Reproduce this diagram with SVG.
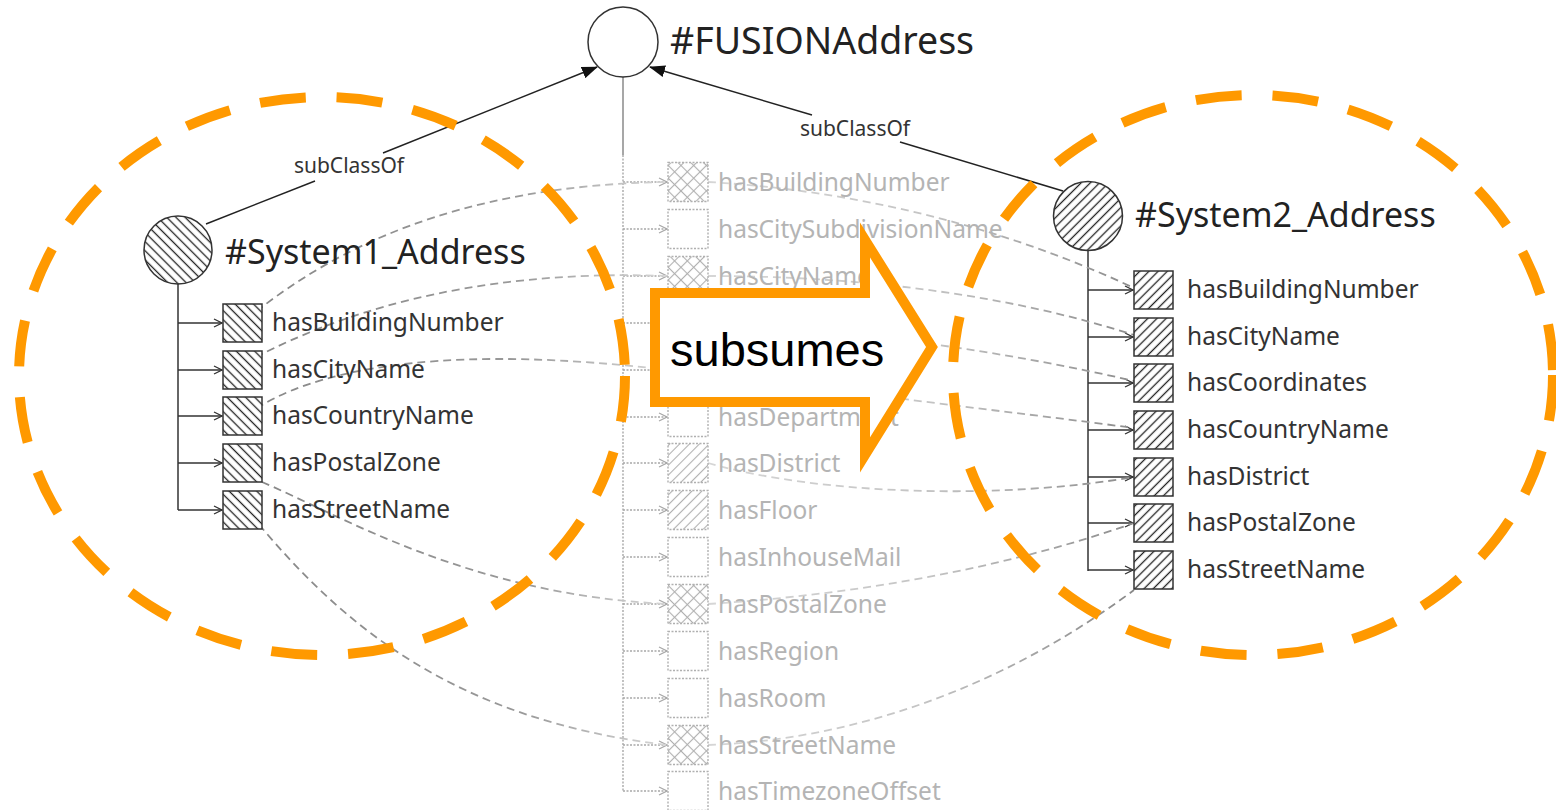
<svg xmlns="http://www.w3.org/2000/svg" width="1556" height="810" viewBox="0 0 1556 810">
  <defs>
    <style>
      .lbl { font-family: "Noto Sans", "Open Sans", "DejaVu Sans", sans-serif; font-size: 24.5px; fill: #333; }
      .lblFaint { font-family: "Noto Sans", "Open Sans", "DejaVu Sans", sans-serif; font-size: 24.5px; fill: #b4b4b4; }
      .title { font-family: "Noto Sans", "Open Sans", "DejaVu Sans", sans-serif; font-size: 34px; fill: #222; }
      .edgeLbl { font-family: "Noto Sans", "Open Sans", "DejaVu Sans", sans-serif; font-size: 21px; fill: #333; text-anchor: middle; }
      .tree { stroke: #333; stroke-width: 1.5; fill: none; }
      .treeFaint { stroke: #a8a8a8; stroke-width: 1.4; stroke-dasharray: 2 1.5; fill: none; }
      .box { stroke: #333; stroke-width: 1.5; }
      .boxFaint { stroke: #b0b0b0; stroke-width: 1.4; stroke-dasharray: 2 1.5; }
      .sub { stroke: #222; stroke-width: 1.5; fill: none; }
      .mapL { stroke: url(#fadeRight); stroke-width: 1.8; stroke-dasharray: 8 5; fill: none; }
      .mapR { stroke: url(#fadeLeft); stroke-width: 1.8; stroke-dasharray: 8 5; fill: none; }
      .group { fill: none; stroke: #ff9900; stroke-width: 10; stroke-dasharray: 46 31; }
    </style>
    <!-- hatch fills -->
    <pattern id="hatchBack" width="6.5" height="6.5" patternUnits="userSpaceOnUse" patternTransform="rotate(-45)">
      <rect width="6.5" height="6.5" fill="#fff"/>
      <line x1="3.25" y1="0" x2="3.25" y2="6.5" stroke="#222" stroke-width="1.3"/>
    </pattern>
    <pattern id="hatchFwd" width="6.5" height="6.5" patternUnits="userSpaceOnUse" patternTransform="rotate(45)">
      <rect width="6.5" height="6.5" fill="#fff"/>
      <line x1="3.25" y1="0" x2="3.25" y2="6.5" stroke="#222" stroke-width="1.3"/>
    </pattern>
    <pattern id="hatchGray" width="7" height="7" patternUnits="userSpaceOnUse" patternTransform="rotate(45)">
      <rect width="7" height="7" fill="#fff"/>
      <line x1="3.5" y1="0" x2="3.5" y2="7" stroke="#b0b0b0" stroke-width="1.1"/>
    </pattern>
    <pattern id="crossGray" width="9" height="9" patternUnits="userSpaceOnUse" patternTransform="rotate(45)">
      <rect width="9" height="9" fill="#fff"/>
      <line x1="4.5" y1="0" x2="4.5" y2="9" stroke="#b0b0b0" stroke-width="1.1"/>
      <line x1="0" y1="4.5" x2="9" y2="4.5" stroke="#b0b0b0" stroke-width="1.1"/>
    </pattern>
    <!-- fading strokes for mapping curves -->
    <linearGradient id="fadeRight" x1="0" y1="0" x2="1" y2="0">
      <stop offset="0" stop-color="#888"/>
      <stop offset="0.65" stop-color="#999"/>
      <stop offset="1" stop-color="#d6d6d6"/>
    </linearGradient>
    <linearGradient id="fadeLeft" x1="0" y1="0" x2="1" y2="0">
      <stop offset="0" stop-color="#d6d6d6"/>
      <stop offset="0.5" stop-color="#c4c4c4"/>
      <stop offset="1" stop-color="#888"/>
    </linearGradient>
    <marker id="tri" viewBox="0 0 16 12" refX="15" refY="6" markerWidth="16" markerHeight="12" markerUnits="userSpaceOnUse" orient="auto">
      <path d="M0,0 L16,6 L0,12 z" fill="#111"/>
    </marker>
    <marker id="open" viewBox="0 0 10 10" refX="9" refY="5" markerWidth="10" markerHeight="10" markerUnits="userSpaceOnUse" orient="auto">
      <path d="M1,1 L9,5 L1,9" fill="none" stroke="#333" stroke-width="1.3"/>
    </marker>
    <marker id="openFaint" viewBox="0 0 10 10" refX="9" refY="5" markerWidth="10" markerHeight="10" markerUnits="userSpaceOnUse" orient="auto">
      <path d="M1,1 L9,5 L1,9" fill="none" stroke="#a8a8a8" stroke-width="1.2"/>
    </marker>
  </defs>

  <rect width="1556" height="810" fill="#fff"/>

  <!-- connectors -->
  <g id="connectors">
    <!-- subClassOf edges -->
    <line class="sub" x1="206" y1="224" x2="315" y2="181"/>
    <line class="sub" x1="383" y1="153" x2="597" y2="67" marker-end="url(#tri)"/>
    <line class="sub" x1="1063" y1="191" x2="900" y2="142"/>
    <line class="sub" x1="812" y1="115" x2="650" y2="67" marker-end="url(#tri)"/>

    <!-- property trees -->
    <path class="tree" d="M178,284 V510"/>
    <path class="tree" d="M178,323 H222" marker-end="url(#open)"/>
    <path class="tree" d="M178,370 H222" marker-end="url(#open)"/>
    <path class="tree" d="M178,416 H222" marker-end="url(#open)"/>
    <path class="tree" d="M178,463 H222" marker-end="url(#open)"/>
    <path class="tree" d="M178,510 H222" marker-end="url(#open)"/>

    <path class="tree" d="M1088,250 V571"/>
    <path class="tree" d="M1088,290 H1133" marker-end="url(#open)"/>
    <path class="tree" d="M1088,337 H1133" marker-end="url(#open)"/>
    <path class="tree" d="M1088,383 H1133" marker-end="url(#open)"/>
    <path class="tree" d="M1088,430 H1133" marker-end="url(#open)"/>
    <path class="tree" d="M1088,477 H1133" marker-end="url(#open)"/>
    <path class="tree" d="M1088,523 H1133" marker-end="url(#open)"/>
    <path class="tree" d="M1088,570 H1133" marker-end="url(#open)"/>

    <path d="M623,77 V155" stroke="#8a8a8a" stroke-width="1.5" fill="none"/>
    <path class="treeFaint" d="M623,155 V791"/>
    <path class="treeFaint" d="M623,182 H667" marker-end="url(#openFaint)"/>
    <path class="treeFaint" d="M623,229 H667" marker-end="url(#openFaint)"/>
    <path class="treeFaint" d="M623,276 H667" marker-end="url(#openFaint)"/>
    <path class="treeFaint" d="M623,323 H667" marker-end="url(#openFaint)"/>
    <path class="treeFaint" d="M623,370 H667" marker-end="url(#openFaint)"/>
    <path class="treeFaint" d="M623,417 H667" marker-end="url(#openFaint)"/>
    <path class="treeFaint" d="M623,463 H667" marker-end="url(#openFaint)"/>
    <path class="treeFaint" d="M623,510 H667" marker-end="url(#openFaint)"/>
    <path class="treeFaint" d="M623,557 H667" marker-end="url(#openFaint)"/>
    <path class="treeFaint" d="M623,604 H667" marker-end="url(#openFaint)"/>
    <path class="treeFaint" d="M623,651 H667" marker-end="url(#openFaint)"/>
    <path class="treeFaint" d="M623,698 H667" marker-end="url(#openFaint)"/>
    <path class="treeFaint" d="M623,745 H667" marker-end="url(#openFaint)"/>
    <path class="treeFaint" d="M623,791 H667" marker-end="url(#openFaint)"/>

    <!-- mappings System1 -> FUSION -->
    <path class="mapL" d="M245,318 L262,307 C330,255 450,185 668,182"/>
    <path class="mapL" d="M245,365 L262,354 C330,320 460,268 668,276"/>
    <path class="mapL" d="M245,415 L262,405 C330,365 460,345 668,370"/>
    <path class="mapL" d="M262,482 C340,515 470,595 668,604"/>
    <path class="mapL" d="M250,515 L262,528 C340,620 450,720 668,745"/>

    <!-- mappings FUSION -> System2 -->
    <path class="mapR" d="M708,182 C850,190 1000,225 1134,288 L1150,296"/>
    <path class="mapR" d="M708,276 C850,276 1000,292 1134,335 L1150,340"/>
    <path class="mapR" d="M708,323 C850,330 1000,350 1134,381 L1150,384"/>
    <path class="mapR" d="M708,370 C850,395 1000,410 1134,428 L1150,430"/>
    <path class="mapR" d="M708,463 C820,495 1000,500 1134,477 L1150,474"/>
    <path class="mapR" d="M708,604 C850,595 1000,570 1134,523 L1150,517"/>
    <path class="mapR" d="M708,745 C850,740 1000,690 1134,590"/>
  </g>

  <!-- edge labels -->
  <g id="edge-labels">
    <text class="edgeLbl" x="349" y="173">subClassOf</text>
    <text class="edgeLbl" x="855" y="136">subClassOf</text>
  </g>

  <!-- FUSION class and its properties -->
  <g id="fusion">
    <circle cx="623" cy="42" r="35" fill="#fff" stroke="#333" stroke-width="1.5"/>
    <text class="title" x="670" y="54" style="font-size:37.5px">#FUSIONAddress</text>
  </g>
  <g id="fusion-props">
    <rect class="boxFaint" x="668" y="162.5" width="40" height="39" fill="url(#crossGray)"/>
    <text class="lblFaint" x="718" y="191">hasBuildingNumber</text>
    <rect class="boxFaint" x="668" y="209.5" width="40" height="39" fill="#fff"/>
    <text class="lblFaint" x="718" y="238">hasCitySubdivisionName</text>
    <rect class="boxFaint" x="668" y="256.5" width="40" height="39" fill="url(#crossGray)"/>
    <text class="lblFaint" x="718" y="285">hasCityName</text>
    <rect class="boxFaint" x="668" y="397.5" width="40" height="39" fill="#fff"/>
    <text class="lblFaint" x="718" y="426">hasDepartment</text>
    <rect class="boxFaint" x="668" y="443.5" width="40" height="39" fill="url(#hatchGray)"/>
    <text class="lblFaint" x="718" y="472">hasDistrict</text>
    <rect class="boxFaint" x="668" y="490.5" width="40" height="39" fill="url(#hatchGray)"/>
    <text class="lblFaint" x="718" y="519">hasFloor</text>
    <rect class="boxFaint" x="668" y="537.5" width="40" height="39" fill="#fff"/>
    <text class="lblFaint" x="718" y="566">hasInhouseMail</text>
    <rect class="boxFaint" x="668" y="584.5" width="40" height="39" fill="url(#crossGray)"/>
    <text class="lblFaint" x="718" y="613">hasPostalZone</text>
    <rect class="boxFaint" x="668" y="631.5" width="40" height="39" fill="#fff"/>
    <text class="lblFaint" x="718" y="660">hasRegion</text>
    <rect class="boxFaint" x="668" y="678.5" width="40" height="39" fill="#fff"/>
    <text class="lblFaint" x="718" y="707">hasRoom</text>
    <rect class="boxFaint" x="668" y="725.5" width="40" height="39" fill="url(#crossGray)"/>
    <text class="lblFaint" x="718" y="754">hasStreetName</text>
    <rect class="boxFaint" x="668" y="771.5" width="40" height="39" fill="#fff"/>
    <text class="lblFaint" x="718" y="800">hasTimezoneOffset</text>
  </g>

  <!-- System1 class and its properties -->
  <g id="system1">
    <circle cx="178" cy="250" r="34" fill="url(#hatchBack)" stroke="#333" stroke-width="1.5"/>
    <text class="title" x="225" y="264">#System1_Address</text>
  </g>
  <g id="system1-props">
    <rect class="box" x="223" y="304" width="39" height="38" fill="url(#hatchBack)"/>
    <text class="lbl" x="272" y="331">hasBuildingNumber</text>
    <rect class="box" x="223" y="351" width="39" height="38" fill="url(#hatchBack)"/>
    <text class="lbl" x="272" y="378">hasCityName</text>
    <rect class="box" x="223" y="397" width="39" height="38" fill="url(#hatchBack)"/>
    <text class="lbl" x="272" y="424">hasCountryName</text>
    <rect class="box" x="223" y="444" width="39" height="38" fill="url(#hatchBack)"/>
    <text class="lbl" x="272" y="471">hasPostalZone</text>
    <rect class="box" x="223" y="491" width="39" height="38" fill="url(#hatchBack)"/>
    <text class="lbl" x="272" y="518">hasStreetName</text>
  </g>

  <!-- System2 class and its properties -->
  <g id="system2">
    <circle cx="1088" cy="216" r="34.5" fill="url(#hatchFwd)" stroke="#333" stroke-width="1.5"/>
    <text class="title" x="1135" y="227">#System2_Address</text>
  </g>
  <g id="system2-props">
    <rect class="box" x="1134" y="271" width="39" height="38" fill="url(#hatchFwd)"/>
    <text class="lbl" x="1187" y="298">hasBuildingNumber</text>
    <rect class="box" x="1134" y="318" width="39" height="38" fill="url(#hatchFwd)"/>
    <text class="lbl" x="1187" y="345">hasCityName</text>
    <rect class="box" x="1134" y="364" width="39" height="38" fill="url(#hatchFwd)"/>
    <text class="lbl" x="1187" y="391">hasCoordinates</text>
    <rect class="box" x="1134" y="411" width="39" height="38" fill="url(#hatchFwd)"/>
    <text class="lbl" x="1187" y="438">hasCountryName</text>
    <rect class="box" x="1134" y="458" width="39" height="38" fill="url(#hatchFwd)"/>
    <text class="lbl" x="1187" y="485">hasDistrict</text>
    <rect class="box" x="1134" y="504" width="39" height="38" fill="url(#hatchFwd)"/>
    <text class="lbl" x="1187" y="531">hasPostalZone</text>
    <rect class="box" x="1134" y="551" width="39" height="38" fill="url(#hatchFwd)"/>
    <text class="lbl" x="1187" y="578">hasStreetName</text>
  </g>

  <!-- grouping outlines -->
  <g id="group-system1">
    <ellipse class="group" cx="322" cy="376" rx="303" ry="279"/>
  </g>
  <g id="group-system2">
    <ellipse class="group" cx="1253" cy="375" rx="300" ry="280"/>
  </g>

  <!-- subsumes arrow -->
  <g id="subsumes">
    <path d="M655,293 H865 V240 L932,347 L865,455 V402 H655 Z" fill="#fff" stroke="#ff9900" stroke-width="10" stroke-linejoin="miter" stroke-miterlimit="10"/>
    <text x="670" y="366" font-family="'Liberation Sans', Arial, sans-serif" font-size="47" fill="#000">subsumes</text>
  </g>
</svg>
